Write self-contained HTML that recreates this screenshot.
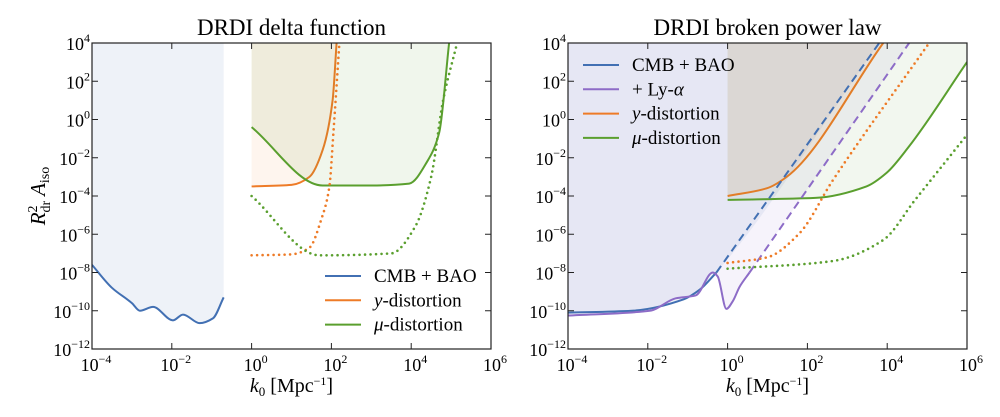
<!DOCTYPE html>
<html><head><meta charset="utf-8"><style>
body{margin:0;background:#fff}
svg{display:block;font-family:"Liberation Serif",serif}
</style></head><body>
<svg id="chart" width="1000" height="417" viewBox="0 0 1000 417"></svg>
<script>
// ---- data (log10 k, log10 A) ----
const leftCmb=[[-4,-7.6],[-3.5,-8.8],[-3,-9.6],[-2.8,-10.0],[-2.47,-9.8],[-1.97,-10.5],[-1.72,-10.2],[-1.3,-10.65],[-0.97,-10.4],[-0.7,-9.3]];
const leftY=[[0,-3.5],[1,-3.42],[1.45,-3.0],[1.78,-1.6],[2.03,1.0],[2.13,4]];
const leftMu=[[0,-0.4],[1.78,-3.45],[3.0,-3.45],[3.95,-3.35],[4.4,-2.2],[4.7,-0.7],[4.95,4]];
const leftYdot=[[0,-7.1],[1.0,-7.05],[1.45,-6.7],[1.75,-5.2],[1.95,-3.5],[2.05,-0.7],[2.2,4]];
const leftMudot=[[0,-4.0],[1.7,-7.1],[3.5,-7.0],[4.1,-5.6],[4.5,-3.0],[4.8,1.0],[5.15,4]];
const rightCmb=[[-4,-10.1],[-2.4,-10.0],[-1.1,-9.4],[-0.7,-8.9],[-0.28,-8.0]];
const rightCmbDash=[[-0.28,-8.0],[3.8,4]];
const rightLya=[[-4,-10.25],[-1.95,-10.0],[-1.3,-9.35],[-0.8,-9.2],[-0.37,-8.0],[-0.25,-8.2],[-0.03,-9.9],[0.13,-9.5],[0.3,-8.75],[0.55,-8.0]];
const rightLyaDash=[[0.55,-8.0],[4.55,4]];
const rightY=[[0,-4.0],[0.98,-3.6],[1.48,-3.0],[3.9,4]];
const rightMu=[[0,-4.2],[2.2,-4.1],[3.48,-3.5],[3.98,-2.8],[4.55,-1.4],[6,3.0]];
const rightYdot=[[0,-7.5],[1.0,-7.2],[1.8,-5.95],[2.63,-3.2],[5.05,4]];
const rightMudot=[[0,-7.8],[2.63,-7.4],[3.9,-6.3],[4.7,-4.2],[6,-0.8]];
const xTicks=[-4,-2,0,2,4,6];
const yTicks=[-12,-10,-8,-6,-4,-2,0,2,4];

const C={blue:"#4270b3",orange:"#ee7b27",green:"#5a9f2e",purple:"#8d6cc7"};
const svg=document.getElementById('chart');
const NS="http://www.w3.org/2000/svg";
const Y0=43,Y1=349;
function sy(v){return Y1-(v+12)/16*(Y1-Y0);}
function mk(tag,attrs,parent){const e=document.createElementNS(NS,tag);for(const k in attrs)e.setAttribute(k,attrs[k]);(parent||svg).appendChild(e);return e;}
// monotone cubic (Fritsch-Carlson)
function smooth(pts){
  const n=pts.length;
  let d="M"+pts[0][0]+","+pts[0][1];
  if(n===2)return d+" L"+pts[1][0]+","+pts[1][1];
  const dx=[],s=[];
  for(let i=0;i<n-1;i++){dx.push(pts[i+1][0]-pts[i][0]);s.push((pts[i+1][1]-pts[i][1])/dx[i]);}
  const m=[s[0]];
  for(let i=1;i<n-1;i++){
    if(s[i-1]*s[i]<=0)m.push(0);
    else{const w1=2*dx[i]+dx[i-1],w2=dx[i]+2*dx[i-1];m.push((w1+w2)/(w1/s[i-1]+w2/s[i]));}
  }
  m.push(s[n-2]);
  for(let i=0;i<n-1;i++){
    const h=dx[i]/3;
    d+=" C"+(pts[i][0]+h)+","+(pts[i][1]+m[i]*h)+" "+(pts[i+1][0]-h)+","+(pts[i+1][1]-m[i+1]*h)+" "+pts[i+1][0]+","+pts[i+1][1];
  }
  return d;
}
function panel(x0,title,name){
  const x1=x0+399;
  const sx=v=>x0+(v+4)/10*(x1-x0);
  const g=mk('g',{});
  
  
  const clipId='clip'+name;
  const cp=mk('clipPath',{id:clipId},g);
  mk('rect',{x:x0,y:Y0,width:x1-x0,height:Y1-Y0},cp);
  const plot=mk('g',{'clip-path':'url(#'+clipId+')'},g);
  const t=mk('text',{x:(x0+x1)/2,y:35,'text-anchor':'middle','font-size':23},g);
  t.textContent=title;
  
  
  return {g,plot,sx,x0,x1};
}
function line(P,data,color,style,name,fill){
  const pts=data.map(p=>[P.sx(p[0]),sy(p[1])]);
  if(fill){
    const d=smooth(pts)+" L"+pts[pts.length-1][0]+","+Y0+" L"+pts[0][0]+","+Y0+" Z";
    const f=mk('path',{d:d,fill:fill,stroke:'none'},P.plot);
    
    
  }
  if(color==='none')return;
  const a={d:smooth(pts),fill:'none',stroke:color,'stroke-width':2};
  if(style==='dot'){a['stroke-dasharray']='0 5.5';a['stroke-linecap']='round';a['stroke-width']=2.6;}
  if(style==='dash'){a['stroke-dasharray']='8 5';}
  const l=mk('path',a,P.plot);
  
  
}
function axes(P){
  const fr=mk('rect',{x:P.x0,y:Y0,width:P.x1-P.x0,height:Y1-Y0,fill:'none',stroke:'#222','stroke-width':1.2},P.g);
  
  
  xTicks.forEach(v=>{
    const x=P.sx(v);
    mk('line',{x1:x,x2:x,y1:Y1,y2:Y1-6,stroke:'#222'},P.g);
    mk('line',{x1:x,x2:x,y1:Y0,y2:Y0+6,stroke:'#222'},P.g);
    const t=mk('text',{x:x+4,y:Y1+22,'text-anchor':'middle','font-size':18},P.g);
    
    
    t.innerHTML='10<tspan dy="-8" font-size="12">'+(v<0?'−'+(-v):v)+'</tspan>';
  });
  yTicks.forEach(v=>{
    const y=sy(v);
    mk('line',{x1:P.x0,x2:P.x0+6,y1:y,y2:y,stroke:'#222'},P.g);
    mk('line',{x1:P.x1,x2:P.x1-6,y1:y,y2:y,stroke:'#222'},P.g);
    const t=mk('text',{x:P.x0-2,y:y+7,'text-anchor':'end','font-size':18},P.g);
    
    
    t.innerHTML='10<tspan dy="-8" font-size="12">'+(v<0?'−'+(-v):v)+'</tspan>';
  });
  const xl=mk('text',{x:(P.x0+P.x1)/2,y:392,'text-anchor':'middle','font-size':20},P.g);
  
  
  xl.innerHTML='<tspan font-style="italic">k</tspan><tspan font-size="13" dy="4">0</tspan><tspan dy="-4"> [Mpc</tspan><tspan font-size="12" dy="-7">−1</tspan><tspan dy="7">]</tspan>';
}
function legend(P,x,y,items){
  items.forEach((it,i)=>{
    const yy=y+i*24.3;
    const l=mk('line',{x1:x,x2:x+36,y1:yy,y2:yy,stroke:it[1],'stroke-width':2},P.g);
    
    
    const t=mk('text',{x:x+49,y:yy+6,'font-size':19},P.g);
    
    
    t.innerHTML=it[0];
  });
}
// left panel
const L=panel(92,'DRDI delta function','left-panel');
line(L,leftCmb,C.blue,'solid','cmb-bao-line','rgba(66,112,179,0.09)');
line(L,leftY,C.orange,'solid','y-distortion-line','rgba(238,123,39,0.08)');
line(L,leftMu,C.green,'solid','mu-distortion-line','rgba(90,159,46,0.09)');
line(L,leftYdot,C.orange,'dot','y-distortion-forecast');
line(L,leftMudot,C.green,'dot','mu-distortion-forecast');
axes(L);
legend(L,325,276,[['CMB + BAO',C.blue],['<tspan font-style="italic">y</tspan>-distortion',C.orange],['<tspan font-style="italic">μ</tspan>-distortion',C.green]]);
const yl=mk('text',{transform:'translate(45,196) rotate(-90)','text-anchor':'middle','font-size':21});


yl.innerHTML='<tspan font-style="italic">R</tspan><tspan font-size="14" dy="-8">2</tspan><tspan font-size="14" dx="-7" dy="13">dr</tspan><tspan dy="-5" font-style="italic"> A</tspan><tspan font-size="14" dy="4">iso</tspan>';
// right panel
const R=panel(568,'DRDI broken power law','right-panel');
line(R,rightCmb.concat(rightCmbDash.slice(1)),'none','solid','cmb-bao-region','rgba(66,112,179,0.09)');
line(R,rightLya.concat(rightLyaDash.slice(1)),'none','solid','lya-region','rgba(141,108,199,0.08)');
line(R,rightY,C.orange,'solid','y-distortion-line','rgba(238,123,39,0.09)');
line(R,rightMu,C.green,'solid','mu-distortion-line','rgba(90,159,46,0.08)');
line(R,rightCmb,C.blue,'solid','cmb-bao-line');
line(R,rightCmbDash,C.blue,'dash','cmb-bao-extrapolation');
line(R,rightLya,C.purple,'solid','lya-line');
line(R,rightLyaDash,C.purple,'dash','lya-extrapolation');
line(R,rightYdot,C.orange,'dot','y-distortion-forecast');
line(R,rightMudot,C.green,'dot','mu-distortion-forecast');
axes(R);
legend(R,583,65,[['CMB + BAO',C.blue],['+ Ly-<tspan font-style="italic">α</tspan>',C.purple],['<tspan font-style="italic">y</tspan>-distortion',C.orange],['<tspan font-style="italic">μ</tspan>-distortion',C.green]]);
</script>
</body></html>
